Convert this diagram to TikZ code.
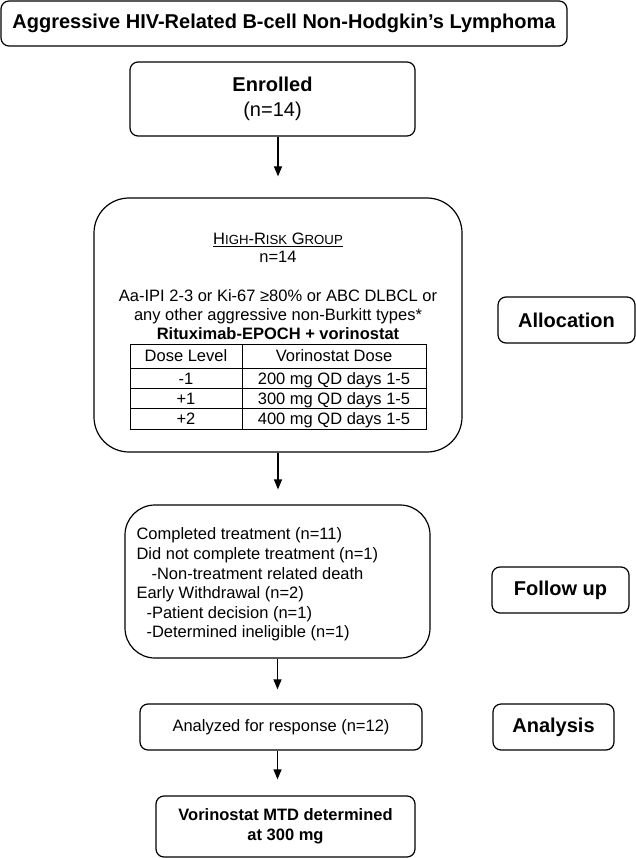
\documentclass[tikz,border=0pt]{standalone}
\usepackage{fontspec}
\setmainfont{Liberation Sans}
\usetikzlibrary{arrows.meta}

\newcommand{\lowcaps}[1]{{\fontsize{13.2}{15}\selectfont\MakeUppercase{#1}}}

\begin{document}
\begin{tikzpicture}[x=1pt, y=-1pt,
  box/.style={draw, line width=1.2pt, rounded corners=8pt, inner sep=0pt, align=center},
  big/.style={font=\fontsize{20}{25}\selectfont},
  bigbold/.style={font=\fontsize{20}{25}\selectfont\bfseries},
  txt/.style={font=\fontsize{16.5}{19.5}\selectfont},
  txtbold/.style={font=\fontsize{16.5}{19.5}\selectfont\bfseries},
  flow/.style={-{Triangle[length=10pt,width=8pt]}, line width=1.2pt}]
  \useasboundingbox (0,0) rectangle (636,858);

  % top of the chart
  \node[box, bigbold, minimum width=566pt, minimum height=45pt] (title) at (284,23.5)
    {Aggressive HIV-Related B-cell Non-Hodgkin’s Lymphoma};
  \node[box, big, minimum width=285pt, minimum height=74pt] (enrolled) at (272.5,99)
    {{\bfseries Enrolled}\\(n=14)};

  % allocation
  \node[box, rounded corners=35pt, minimum width=368pt, minimum height=254pt] (risk) at (278,325) {};
  \node[txt, anchor=base] (group) at (278,245) {\underline{H\lowcaps{igh}-R\lowcaps{isk} G\lowcaps{roup}}};
  \node[txt, anchor=base] (groupn) at (278,263) {n=14};
  \node[txt, anchor=base] (crit1) at (278,301) {Aa-IPI 2-3 or Ki-67 ≥80\% or ABC DLBCL or};
  \node[txt, anchor=base] (crit2) at (278,320) {any other aggressive non-Burkitt types*};
  \node[txtbold, anchor=base] (regimen) at (278,339) {Rituximab-EPOCH + vorinostat};

  \draw[line width=0.8pt] (130,344) rectangle (426,429);
  \draw[line width=0.8pt] (130,368) -- (426,368);
  \draw[line width=0.8pt] (130,388) -- (426,388);
  \draw[line width=0.8pt] (130,408) -- (426,408);
  \draw[line width=0.8pt] (242,344) -- (242,429);

  \node[txt, anchor=base] (level) at (186,361) {Dose Level};
  \node[txt, anchor=base] (dose) at (334,361) {Vorinostat Dose};
  \node[txt, anchor=base] (levelA) at (186,384) {-1};
  \node[txt, anchor=base] (doseA) at (334,384) {200 mg QD days 1-5};
  \node[txt, anchor=base] (levelB) at (186,404) {+1};
  \node[txt, anchor=base] (doseB) at (334,404) {300 mg QD days 1-5};
  \node[txt, anchor=base] (levelC) at (186,424) {+2};
  \node[txt, anchor=base] (doseC) at (334,424) {400 mg QD days 1-5};

  % follow up
  \node[box, rounded corners=30pt, minimum width=305pt, minimum height=153pt] (follow) at (277.5,581.5) {};
  \node[txt, anchor=base west] (fuA) at (133,539) {Completed treatment (n=11)};
  \node[txt, anchor=base west] (fuB) at (133,559) {Did not complete treatment (n=1)};
  \node[txt, anchor=base west] (fuC) at (148,579) {-Non-treatment related death};
  \node[txt, anchor=base west] (fuD) at (133,598) {Early Withdrawal (n=2)};
  \node[txt, anchor=base west] (fuE) at (143,618) {-Patient decision (n=1)};
  \node[txt, anchor=base west] (fuF) at (143,637) {-Determined ineligible (n=1)};

  % analysis
  \node[box, txt, minimum width=282pt, minimum height=46pt] (analyzed) at (281,727) {Analyzed for response (n=12)};
  \node[box, txtbold, minimum width=259pt, minimum height=61pt] (mtd) at (285.5,826.5)
    {Vorinostat MTD determined\\at 300 mg};

  % stage labels
  \node[box, bigbold, minimum width=137pt, minimum height=46pt] (allocation) at (566.5,320) {Allocation};
  \node[box, bigbold, minimum width=137pt, minimum height=46pt] (followup) at (560.5,590) {Follow up};
  \node[box, bigbold, minimum width=121pt, minimum height=46pt] (analysis) at (553.5,727) {Analysis};

  % arrows
  \draw[flow, shorten >=21pt] (risk.north |- enrolled.south) -- (risk.north);
  \draw[flow, shorten >=15pt] (risk.south) -- (risk.south |- follow.north);
  \draw[flow, shorten >=14pt] (follow.south) -- (follow.south |- analyzed.north);
  \draw[flow, shorten >=16pt] (follow.south |- analyzed.south) -- (follow.south |- mtd.north);
\end{tikzpicture}
\end{document}
